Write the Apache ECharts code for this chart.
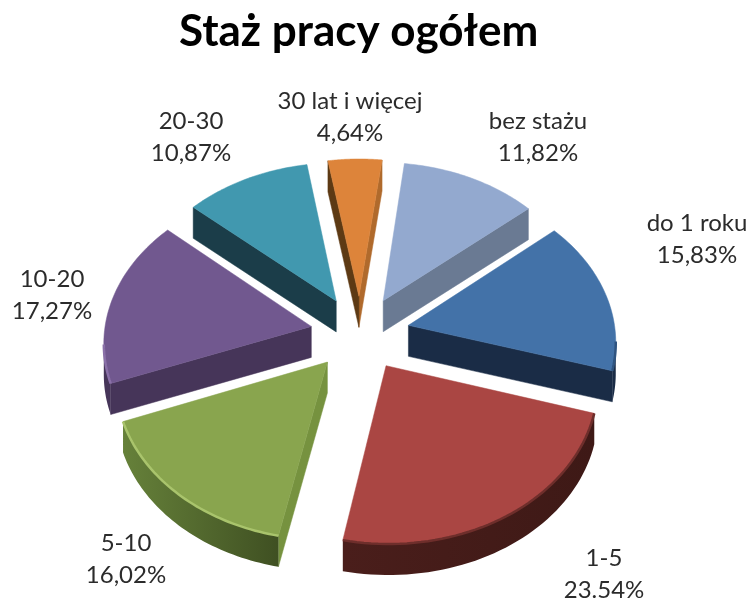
<!DOCTYPE html>
<html>
<head>
<meta charset="utf-8">
<script src="https://cdn.jsdelivr.net/npm/echarts@6/dist/echarts.min.js"></script>
<style>html,body{margin:0;padding:0;background:#fff}#c{width:751px;height:598px}</style>
</head>
<body>
<div id="c"></div>
<script>
const categories = ['bez stażu','do 1 roku','1-5','5-10','10-20','20-30','30 lat i więcej'];
const values = [11.82,15.83,23.54,16.02,17.27,10.87,4.64];
const valueLabels = ['11,82%','15,83%','23.54%','16,02%','17,27%','10,87%','4,64%'];
const topColors = ['#93A9CF','#4372A8','#AA4643','#89A54E','#71588F','#4198AF','#DD843A'];
const arcWallColors = [['#6A7A93','#6A7A93'],['#1A2C46','#1A2C46'],['#4A1E1B','#3E1916'],['#66813A','#3F5022'],['#463559','#463559'],['#1B3D49','#1B3D49'],['#B06A2C','#B06A2C']];
const startSideColors = ['#6A7A93','#1A2C46','#451C1A','#76923F','#463559','#1B3D49','#5D3A14'];
const endSideColors = ['#6A7A93','#1A2C46','#451C1A','#76923F','#463559','#1B3D49','#B06A2C'];
const rimColors = [null,'#2F5480','#6E2E2B','#A9C46C','#8A70A8',null,null];
const labelCenters = [[538,137],[697,239],[604,574],[126,559],[52,295],[191,137],[350,117]];

const START_ANGLE = 7.1, CX = 360, CY = 333, A = 156, B = 207, P = 0.09, EXPLODE = 0.24, DEPTH = 31;
const total = values.reduce((a, b) => a + b, 0);
const rad = d => d * Math.PI / 180;
function proj(X, Y) { const w = 1 + P * Y; return [CX + B * X / w, CY - A * Y / w]; }

function renderSlice(params, api) {
  const i = params.dataIndex;
  let before = 0;
  for (let k = 0; k < i; k++) before += values[k];
  const a0 = START_ANGLE + before / total * 360;
  const a1 = a0 + api.value(0) / total * 360;
  const mid = rad((a0 + a1) / 2);
  const ox = EXPLODE * Math.sin(mid), oy = EXPLODE * Math.cos(mid);
  const arc = [];
  const n = 48;
  for (let s = 0; s <= n; s++) {
    const t = rad(a0 + (a1 - a0) * s / n);
    arc.push(proj(ox + Math.sin(t), oy + Math.cos(t)));
  }
  const tip = proj(ox, oy);
  const down = p => [p[0], p[1] + DEPTH];
  const children = [];
  const quad = (p, q, fill) => {
    if ((q[0] - p[0]) < 0) children.push({
      type: 'polygon', shape: { points: [p, q, down(q), down(p)] },
      style: { fill: fill, stroke: fill, lineWidth: 0.5 }
    });
  };
  quad(arc[n], tip, endSideColors[i]);
  quad(tip, arc[0], startSideColors[i]);
  let front = [];
  for (let s = 0; s < n; s++) if (arc[s + 1][0] - arc[s][0] < 0) { if (!front.length) front.push(arc[s]); front.push(arc[s + 1]); }
  if (front.length) {
    const poly = front.concat(front.slice().reverse().map(down));
    children.push({
      type: 'polygon', shape: { points: poly },
      style: {
        fill: new echarts.graphic.LinearGradient(0, 0, 1, 0, [
          { offset: 0, color: arcWallColors[i][0] },
          { offset: 1, color: arcWallColors[i][1] }
        ])
      }
    });
  }
  children.push({
    type: 'polygon', shape: { points: [tip].concat(arc) },
    style: { fill: api.visual('color'), stroke: api.visual('color'), lineWidth: 0.5 }
  });
  if (rimColors[i]) {
    const rim = front.length ? front : arc;
    children.push({ type: 'polyline', shape: { points: rim }, style: { fill: null, stroke: rimColors[i], lineWidth: 2.5 } });
  }
  return { type: 'group', children: children };
}

function renderLabel(params) {
  const i = params.dataIndex;
  return {
    type: 'text',
    style: {
      x: labelCenters[i][0], y: labelCenters[i][1],
      text: categories[i] + '\n' + valueLabels[i],
      fill: '#2b2b2b', font: '24px Lato, "Open Sans", sans-serif',
      lineHeight: 32, align: 'center', verticalAlign: 'middle'
    }
  };
}

const chart = echarts.init(document.getElementById('c'), null, { renderer: 'canvas' });
chart.setOption({
  animation: false,
  backgroundColor: '#ffffff',
  title: {
    text: 'Staż pracy ogółem', left: 174, top: 5,
    textStyle: { fontFamily: 'Lato, "Open Sans", sans-serif', fontWeight: 'bold', fontSize: 44, color: '#000' }
  },
  series: [
    {
      type: 'custom', coordinateSystem: 'none', renderItem: renderSlice, clip: false,
      data: values.map((v, i) => ({ name: categories[i], value: [v], itemStyle: { color: topColors[i] } }))
    },
    {
      type: 'custom', coordinateSystem: 'none', renderItem: renderLabel, silent: true,
      data: values.map((v, i) => ({ name: categories[i], value: [v] }))
    }
  ]
});
</script>
</body>
</html>
